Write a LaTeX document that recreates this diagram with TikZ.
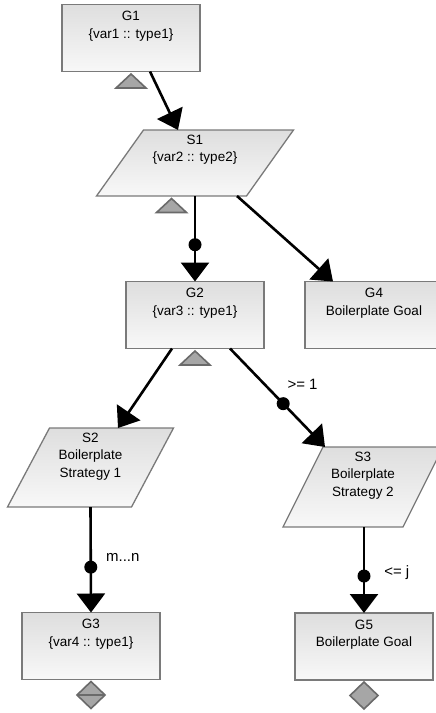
\documentclass[tikz,border=0pt]{standalone}
\usepackage{fontspec}
\setmainfont{Liberation Sans}
\usetikzlibrary{shapes.geometric,arrows.meta,calc}

\definecolor{boxedge}{HTML}{7A7A7A}
\definecolor{fillA}{HTML}{DEDEDE}
\definecolor{fillB}{HTML}{F8F8F8}
\definecolor{markfill}{HTML}{A6A6A6}
\definecolor{markedge}{HTML}{6A6A6A}

% top-aligned text block: height, width, lines
\newcommand\gsntext[3]{\parbox[c][#1][t]{#2}{\centering\rule{0pt}{14pt}#3}}

\tikzset{
  gsnfont/.style={font=\fontsize{13.5pt}{17.5pt}\selectfont},
  goalbox/.style={rectangle, draw=boxedge, line width=1.3pt, top color=fillA, bottom color=fillB,
    minimum width=138pt, minimum height=67pt, inner sep=0pt, outer sep=0pt, gsnfont},
  stratbox/.style={trapezium, draw=boxedge, line width=1.3pt, top color=fillA, bottom color=fillB,
    inner sep=0pt, outer sep=0pt, gsnfont},
  link/.style={line width=2.6pt, -{Triangle[length=19pt,width=28pt]}},
  joint/.style={circle, fill=black, minimum size=13pt, inner sep=0pt},
  cardinality/.style={inner sep=0pt, font=\fontsize{15pt}{17pt}\selectfont},
  ctxmark/.style={fill=markfill, draw=markedge, line width=1.6pt, line join=miter},
}

\begin{document}
\begin{tikzpicture}[x=1pt, y=-1pt]
  \fill[white] (0,0) rectangle (436,713);
  \useasboundingbox (0,0) rectangle (436,713);
  \clip (0,0) rectangle (436,713);

  % goals and strategies
  \node[goalbox] (G1) at (131,38) {\gsntext{63pt}{130pt}{G1\\\{var1 :: type1\}}};
  \node[stratbox, trapezium left angle=54.55, trapezium right angle=125.45] (S1) at (195,163)
    {\gsntext{66pt}{103pt}{S1\\\{var2 :: type2\}}};
  \node[goalbox] (G2) at (195,315) {\gsntext{63pt}{130pt}{G2\\\{var3 :: type1\}}};
  \node[goalbox] (G4) at (374,315) {\gsntext{63pt}{130pt}{G4\\Boilerplate Goal}};
  \node[stratbox, trapezium left angle=62.0, trapezium right angle=118.0] (S2) at (90.5,467.5)
    {\gsntext{79pt}{82pt}{S2\\Boilerplate\\Strategy 1}};
  \node[stratbox, trapezium left angle=63.43, trapezium right angle=116.57] (S3) at (363,487)
    {\gsntext{80pt}{80pt}{S3\\Boilerplate\\Strategy 2}};
  \node[goalbox] (G3) at (91,646) {\gsntext{63pt}{130pt}{G3\\\{var4 :: type1\}}};
  \node[goalbox] (G5) at (364,646.5) {\gsntext{63pt}{130pt}{G5\\Boilerplate Goal}};

  % context markers
  \draw[ctxmark] ($(G1.south)+(0,2.5)$) -- ++(15,14) -- ++(-30,0) -- cycle;
  \draw[ctxmark] ($(S1.bottom side)+(0,2.5)$) -- ++(15,14) -- ++(-30,0) -- cycle;
  \draw[ctxmark] ($(G2.south)+(0,2.5)$) -- ++(15,14) -- ++(-30,0) -- cycle;

  % undeveloped markers
  \draw[ctxmark] ($(G3.south)+(0,2)$) -- ++(14,13.5) -- ++(-14,13.5) -- ++(-14,-13.5) -- cycle;
  \draw[markedge, line width=1.6pt] ($(G3.south)+(-14,15.5)$) -- ++(28,0);
  \draw[ctxmark] ($(G5.south)+(0,2)$) -- ++(14,13.5) -- ++(-14,13.5) -- ++(-14,-13.5) -- cycle;

  % connectors
  \draw[link] ([xshift=19pt]G1.south) -- ([xshift=-17pt]S1.north);
  \draw[link] (S1.south) -- node[joint, pos=.57] (j1) {} (G2.north);
  \draw[link] ([xshift=42pt]S1.south) -- ([xshift=-41pt]G4.north);
  \draw[link] ([xshift=-23pt]G2.south) -- ([xshift=27.5pt]S2.north);
  \draw[link] ([xshift=35pt]G2.south) --
    node[joint, pos=.56] (j2) {}
    node[cardinality, pos=.56, anchor=west, xshift=3pt, yshift=19pt] (c2) {>= 1}
    ([xshift=-38pt]S3.north);
  \draw[link] (S2.south) --
    node[joint, pos=.57] (j3) {}
    node[cardinality, pos=.57, anchor=west, xshift=14pt, yshift=10pt] (c3) {m...n}
    (G3.north);
  \draw[link] ([xshift=1pt]S3.south) --
    node[joint, pos=.57] (j4) {}
    node[cardinality, pos=.57, anchor=west, xshift=19pt, yshift=3pt] (c4) {<= j}
    (G5.north);
\end{tikzpicture}
\end{document}
